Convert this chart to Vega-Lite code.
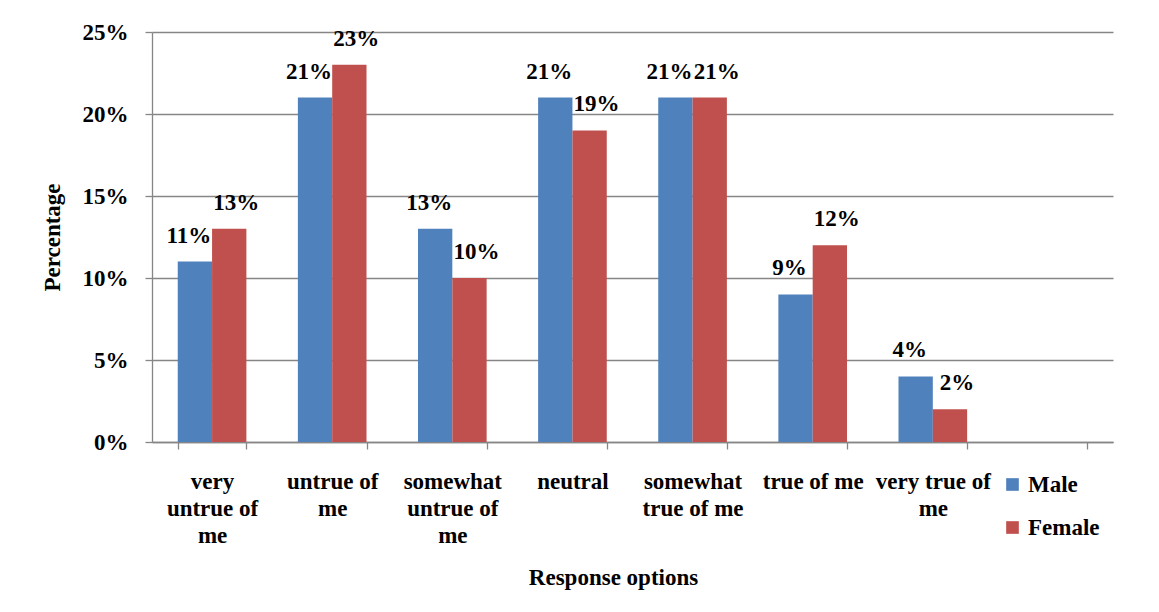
{
  "$schema": "https://vega.github.io/schema/vega-lite/v6.json",
  "width": 961,
  "height": 410,
  "autosize": {"type": "none"},
  "padding": {"left": 152, "top": 32, "right": 46, "bottom": 170},
  "background": "white",
  "config": {"font": "Times New Roman, Liberation Serif, serif", "view": {"stroke": null}},
  "data": {
    "values": [
      {"option": "very untrue of me", "gender": "Male", "value": 0.11},
      {"option": "very untrue of me", "gender": "Female", "value": 0.13},
      {"option": "untrue of me", "gender": "Male", "value": 0.21},
      {"option": "untrue of me", "gender": "Female", "value": 0.23},
      {"option": "somewhat untrue of me", "gender": "Male", "value": 0.13},
      {"option": "somewhat untrue of me", "gender": "Female", "value": 0.10},
      {"option": "neutral", "gender": "Male", "value": 0.21},
      {"option": "neutral", "gender": "Female", "value": 0.19},
      {"option": "somewhat true of me", "gender": "Male", "value": 0.21},
      {"option": "somewhat true of me", "gender": "Female", "value": 0.21},
      {"option": "true of me", "gender": "Male", "value": 0.09},
      {"option": "true of me", "gender": "Female", "value": 0.12},
      {"option": "very true of me", "gender": "Male", "value": 0.04},
      {"option": "very true of me", "gender": "Female", "value": 0.02}
    ]
  },
  "encoding": {
    "x": {
      "field": "option",
      "type": "nominal",
      "sort": null,
      "scale": {
        "domain": ["very untrue of me", "untrue of me", "somewhat untrue of me", "neutral", "somewhat true of me", "true of me", "very true of me", "blank"],
        "paddingInner": 0.4286,
        "paddingOuter": 0.2143
      },
      "axis": {
        "title": "Response options",
        "titleFontSize": 23,
        "titleFontWeight": "bold",
        "titleColor": "black",
        "titlePadding": 19,
        "titleX": 461,
        "labelFontSize": 23,
        "labelFontWeight": "bold",
        "labelColor": "black",
        "labelAngle": 0,
        "labelLineHeight": 27,
        "labelBaseline": "top",
        "labelPadding": 21,
        "labelLimit": 200,
        "tickBand": "extent",
        "tickSize": 7,
        "tickColor": "#868686",
        "tickWidth": 1.3,
        "domainColor": "#868686",
        "domainWidth": 1.3,
        "grid": false,
        "labelExpr": "datum.label == 'very untrue of me' ? ['very','untrue of','me'] : datum.label == 'untrue of me' ? ['untrue of','me'] : datum.label == 'somewhat untrue of me' ? ['somewhat','untrue of','me'] : datum.label == 'somewhat true of me' ? ['somewhat','true of me'] : datum.label == 'very true of me' ? ['very true of','me'] : datum.label == 'blank' ? '' : datum.label"
      }
    },
    "xOffset": {
      "field": "gender",
      "type": "nominal",
      "scale": {"domain": ["Male", "Female"], "paddingInner": 0, "paddingOuter": 0}
    },
    "y": {
      "field": "value",
      "type": "quantitative",
      "scale": {"domain": [0, 0.25], "nice": false},
      "axis": {
        "title": "Percentage",
        "titleFontSize": 23,
        "titleFontWeight": "bold",
        "titleColor": "black",
        "titlePadding": 18,
        "format": ".0%",
        "values": [0, 0.05, 0.1, 0.15, 0.2, 0.25],
        "labelFontSize": 23,
        "labelFontWeight": "bold",
        "labelColor": "black",
        "labelPadding": 17,
        "tickSize": 7,
        "tickColor": "#868686",
        "tickWidth": 1.3,
        "domainColor": "#868686",
        "domainWidth": 1.3,
        "grid": true,
        "gridColor": "#868686",
        "gridWidth": 1.3
      }
    }
  },
  "layer": [
    {
      "mark": {"type": "bar"},
      "encoding": {
        "color": {
          "field": "gender",
          "type": "nominal",
          "scale": {"domain": ["Male", "Female"], "range": ["#4F81BD", "#C0504D"]},
          "legend": {
            "title": null,
            "orient": "none",
            "legendX": 849,
            "legendY": 441,
            "symbolType": "square",
            "symbolSize": 160,
            "symbolStrokeWidth": 0,
            "labelFontSize": 23,
            "labelFontWeight": "bold",
            "labelColor": "black",
            "labelOffset": 4,
            "rowPadding": 19
          }
        }
      }
    },
    {
      "transform": [{"filter": "datum.gender == 'Male'"}],
      "mark": {"type": "text", "dy": -14, "dx": -6, "baseline": "bottom", "fontSize": 23, "fontWeight": "bold", "color": "black"},
      "encoding": {
        "text": {"field": "value", "type": "quantitative", "format": ".0%"}
      }
    },
    {
      "transform": [{"filter": "datum.gender == 'Female'"}],
      "mark": {"type": "text", "dy": -14, "dx": 7, "baseline": "bottom", "fontSize": 23, "fontWeight": "bold", "color": "black"},
      "encoding": {
        "text": {"field": "value", "type": "quantitative", "format": ".0%"}
      }
    }
  ]
}
